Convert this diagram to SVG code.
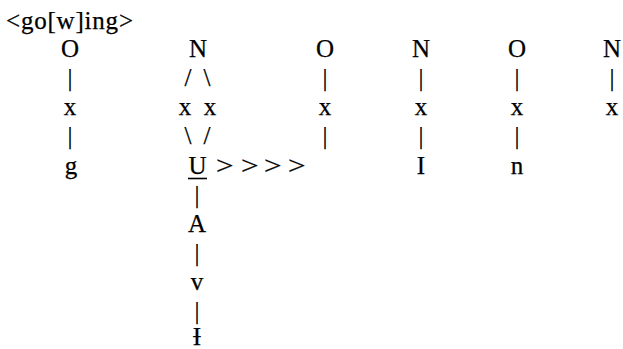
<svg xmlns="http://www.w3.org/2000/svg" width="623" height="349" viewBox="0 0 623 349">
<style>
.t{font-family:'Liberation Serif',serif;font-size:25px;fill:#000;stroke:#000;stroke-width:0.25;text-anchor:middle}
.l{text-anchor:start}
</style>
<rect width="623" height="349" fill="#fff"/>
<g class="t" font-family="Liberation Serif, serif">
<g id="title"><text class="l" x="6" y="29" textLength="127" lengthAdjust="spacing">&lt;go[w]ing&gt;</text></g>
<g id="connectors">
<text x="70" y="86">|</text><text x="70" y="144">|</text>
<text x="188" y="86">/</text><text x="207" y="86">\</text>
<text x="188" y="144">\</text><text x="207" y="144">/</text>
<text x="197" y="203">|</text><text x="197" y="261">|</text><text x="197" y="319">|</text>
<text class="l" transform="translate(216,174) scale(1.25,1)">&gt;</text>
<text class="l" transform="translate(241,174) scale(1.25,1)">&gt;</text>
<text class="l" transform="translate(264,174) scale(1.25,1)">&gt;</text>
<text class="l" transform="translate(288,174) scale(1.25,1)">&gt;</text>
<text x="325" y="86">|</text><text x="325" y="144">|</text>
<text x="421" y="86">|</text><text x="421" y="144">|</text>
<text x="517" y="86">|</text><text x="517" y="144">|</text>
<text x="612" y="86">|</text>
</g>
<g id="col1"><text x="70" y="57">O</text><text x="70" y="115">x</text><text x="71" y="174">g</text></g>
<g id="col2"><text x="198" y="57">N</text><text x="185" y="115">x</text><text x="210" y="115">x</text><text x="197.5" y="174">U</text><line x1="188" y1="178.5" x2="207" y2="178.5" stroke="#000" stroke-width="1.6"/><text x="197" y="232">A</text><text x="197" y="290">v</text><text x="197" y="345">Ɨ</text></g>
<g id="col3"><text x="325" y="57">O</text><text x="325" y="115">x</text></g>
<g id="col4"><text x="421" y="57">N</text><text x="421" y="115">x</text><text x="421" y="174">I</text></g>
<g id="col5"><text x="517" y="57">O</text><text x="517" y="115">x</text><text x="517" y="174">n</text></g>
<g id="col6"><text x="612" y="57">N</text><text x="612" y="115">x</text></g>
</g>
</svg>
